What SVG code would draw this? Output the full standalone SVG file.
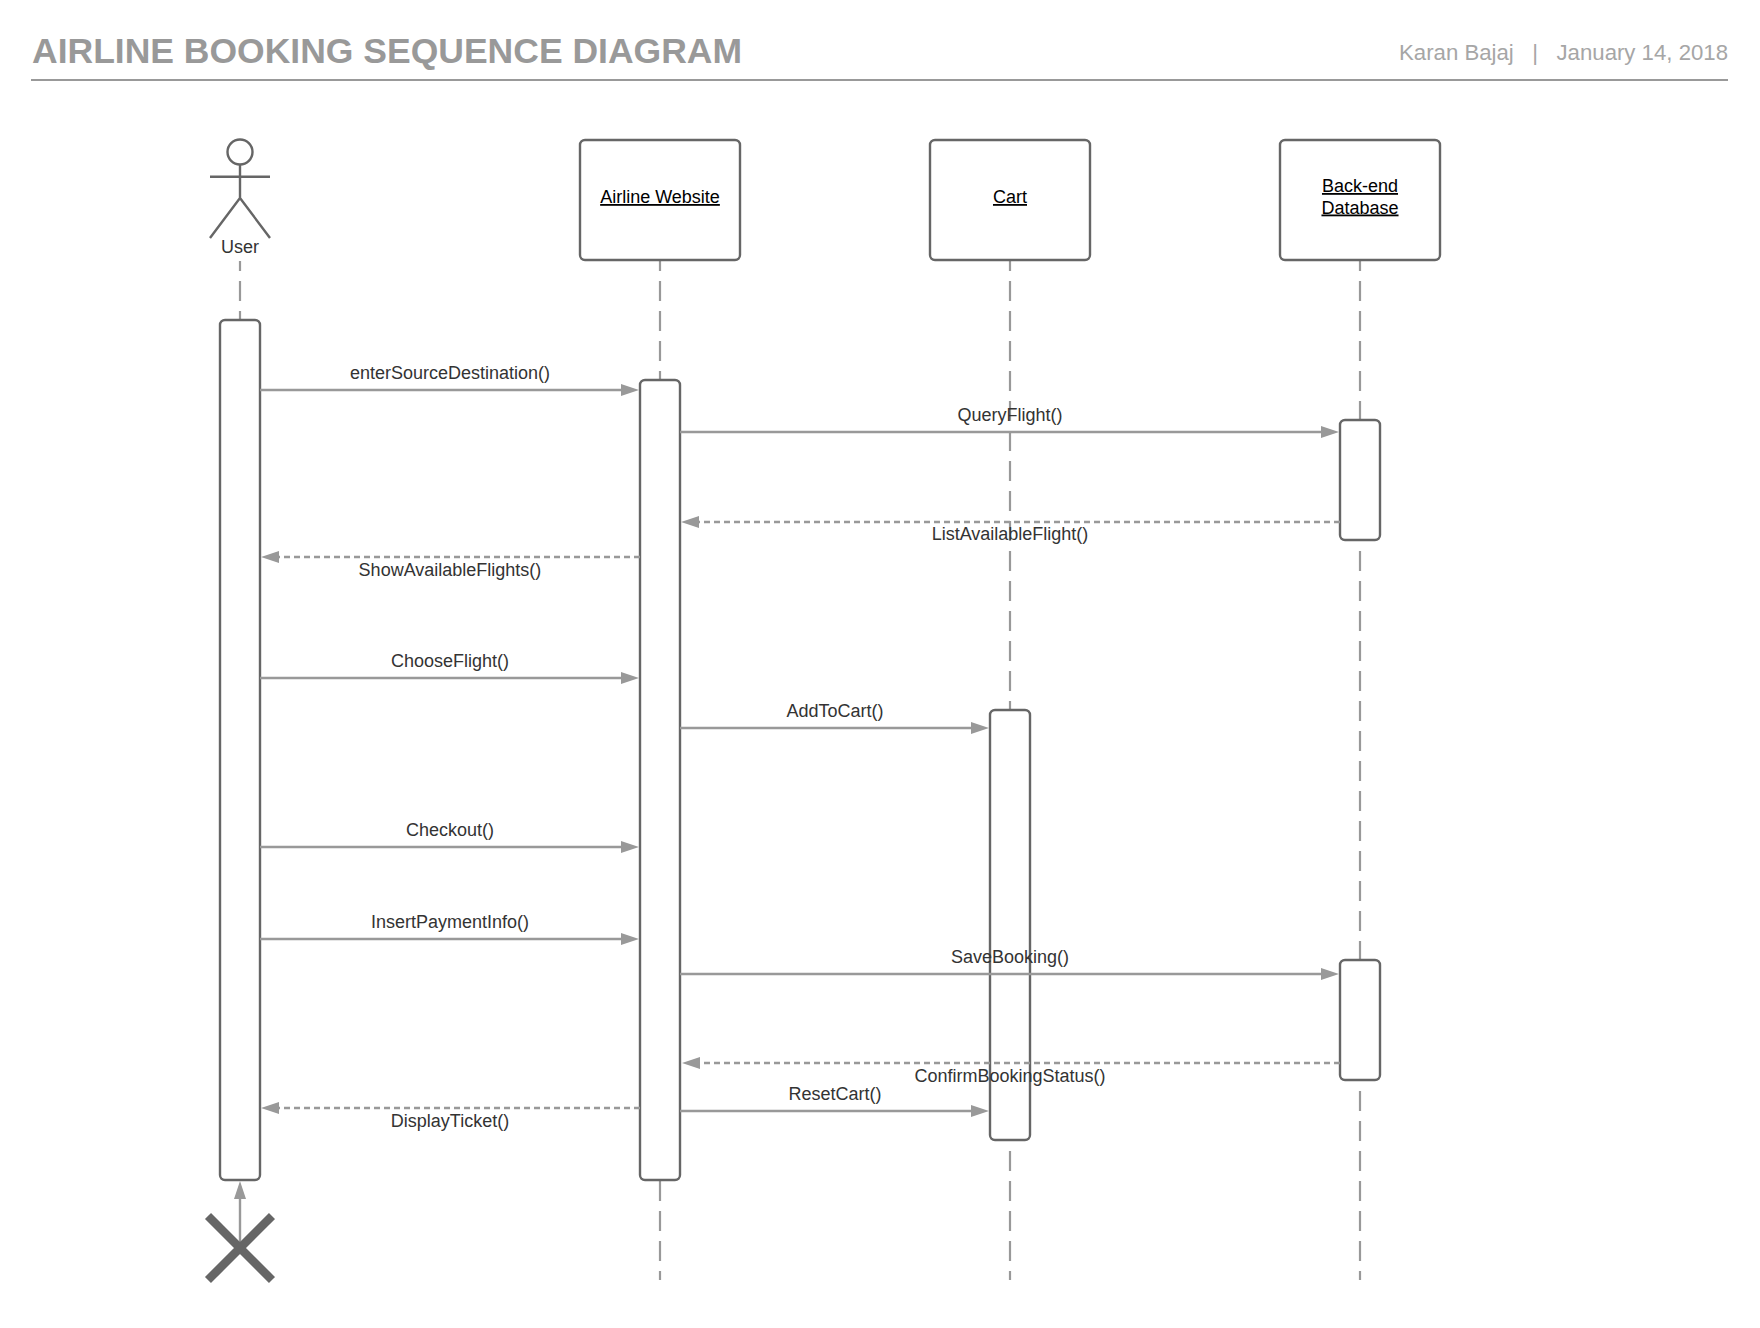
<svg xmlns="http://www.w3.org/2000/svg" width="1760" height="1328" viewBox="0 0 1760 1328">
<style>
text{font-family:"Liberation Sans",Arial,sans-serif;font-size:18px;fill:#333}
.title{font-size:35.5px;font-weight:700;fill:#999}
.meta{font-size:22.2px;fill:#a6a6a6}
.rule{stroke:#999;stroke-width:2.2;fill:none}
.box{fill:#fff;stroke:#666;stroke-width:2.4}
.act{fill:#fff;stroke:#666;stroke-width:2.4}
.stick{fill:none;stroke:#666;stroke-width:2.4}
.name{text-anchor:middle;fill:#000;text-decoration:underline}
.lab{text-anchor:middle}
.life{stroke:#999;stroke-width:2.2;stroke-dasharray:20 10;fill:none}
.msg{stroke:#999;stroke-width:2.4;fill:none;marker-end:url(#arrow)}
.ret{stroke:#999;stroke-width:2.4;fill:none;stroke-dasharray:6 4;marker-end:url(#arrow)}
</style>
<defs>
<marker id="arrow" markerUnits="userSpaceOnUse" markerWidth="18" markerHeight="12" refX="8" refY="6" orient="auto" overflow="visible"><path d="M0 0L18 6L0 12Z" fill="#999"/></marker>
</defs>
<rect width="1760" height="1328" fill="#fff"/>
<g id="header">
<text class="title" x="32" y="63">AIRLINE BOOKING SEQUENCE DIAGRAM</text>
<text class="meta" x="1728" y="60" text-anchor="end" xml:space="preserve">Karan Bajaj   |   January 14, 2018</text>
<line class="rule" x1="31" y1="80" x2="1728" y2="80"/>
</g>
<g id="lifelines">
<line class="life" x1="240" y1="261" x2="240" y2="320" stroke-dashoffset="10"/>
<line class="life" x1="660" y1="261" x2="660" y2="1280" stroke-dashoffset="10"/>
<line class="life" x1="1010" y1="261" x2="1010" y2="1280" stroke-dashoffset="10"/>
<line class="life" x1="1360" y1="261" x2="1360" y2="1280" stroke-dashoffset="10"/>
</g>
<g id="node-user">
<circle class="stick" cx="240" cy="152" r="12.5"/>
<path class="stick" d="M240 164.5V198M210 176.7H270M210 238L240 198L270 238"/>
<text class="lab" x="240" y="253">User</text>
</g>
<g id="node-website">
<rect class="box" x="580" y="140" width="160" height="120" rx="5"/>
<text class="name" x="660" y="203">Airline Website</text>
</g>
<g id="node-cart">
<rect class="box" x="930" y="140" width="160" height="120" rx="5"/>
<text class="name" x="1010" y="203">Cart</text>
</g>
<g id="node-database">
<rect class="box" x="1280" y="140" width="160" height="120" rx="5"/>
<text class="name" x="1360" y="192">Back-end</text>
<text class="name" x="1360" y="213.5">Database</text>
</g>
<g id="activations">
<rect class="act" x="220" y="320" width="40" height="860" rx="5"/>
<rect class="act" x="640" y="380" width="40" height="800" rx="5"/>
<rect class="act" x="1340" y="420" width="40" height="120" rx="5"/>
<rect class="act" x="990" y="710" width="40" height="430" rx="5"/>
<rect class="act" x="1340" y="960" width="40" height="120" rx="5"/>
</g>
<g id="connectors">
<line class="msg" x1="260" y1="390" x2="629" y2="390"/>
<line class="msg" x1="680" y1="432" x2="1329" y2="432"/>
<line class="ret" x1="1340" y1="522" x2="691" y2="522"/>
<line class="ret" x1="640" y1="557" x2="271" y2="557"/>
<line class="msg" x1="260" y1="678" x2="629" y2="678"/>
<line class="msg" x1="680" y1="728" x2="979" y2="728"/>
<line class="msg" x1="260" y1="847" x2="629" y2="847"/>
<line class="msg" x1="260" y1="939" x2="629" y2="939"/>
<line class="msg" x1="680" y1="974" x2="1329" y2="974"/>
<line class="ret" x1="1340" y1="1063" x2="692" y2="1063"/>
<line class="ret" x1="640" y1="1108" x2="271" y2="1108"/>
<line class="msg" x1="680" y1="1111" x2="979" y2="1111"/>
<line class="msg" x1="240" y1="1244" x2="240" y2="1191"/>
</g>
<g id="labels">
<text class="lab" x="450" y="379">enterSourceDestination()</text>
<text class="lab" x="1010" y="421">QueryFlight()</text>
<text class="lab" x="1010" y="540">ListAvailableFlight()</text>
<text class="lab" x="450" y="576">ShowAvailableFlights()</text>
<text class="lab" x="450" y="667">ChooseFlight()</text>
<text class="lab" x="835" y="717">AddToCart()</text>
<text class="lab" x="450" y="836">Checkout()</text>
<text class="lab" x="450" y="928">InsertPaymentInfo()</text>
<text class="lab" x="1010" y="962.5">SaveBooking()</text>
<text class="lab" x="1010" y="1082">ConfirmBookingStatus()</text>
<text class="lab" x="835" y="1100">ResetCart()</text>
<text class="lab" x="450" y="1127">DisplayTicket()</text>
</g>
<g id="node-destroy">
<path d="M208 1216L272 1280M272 1216L208 1280" fill="none" stroke="#666" stroke-width="8.5"/>
</g>
</svg>
